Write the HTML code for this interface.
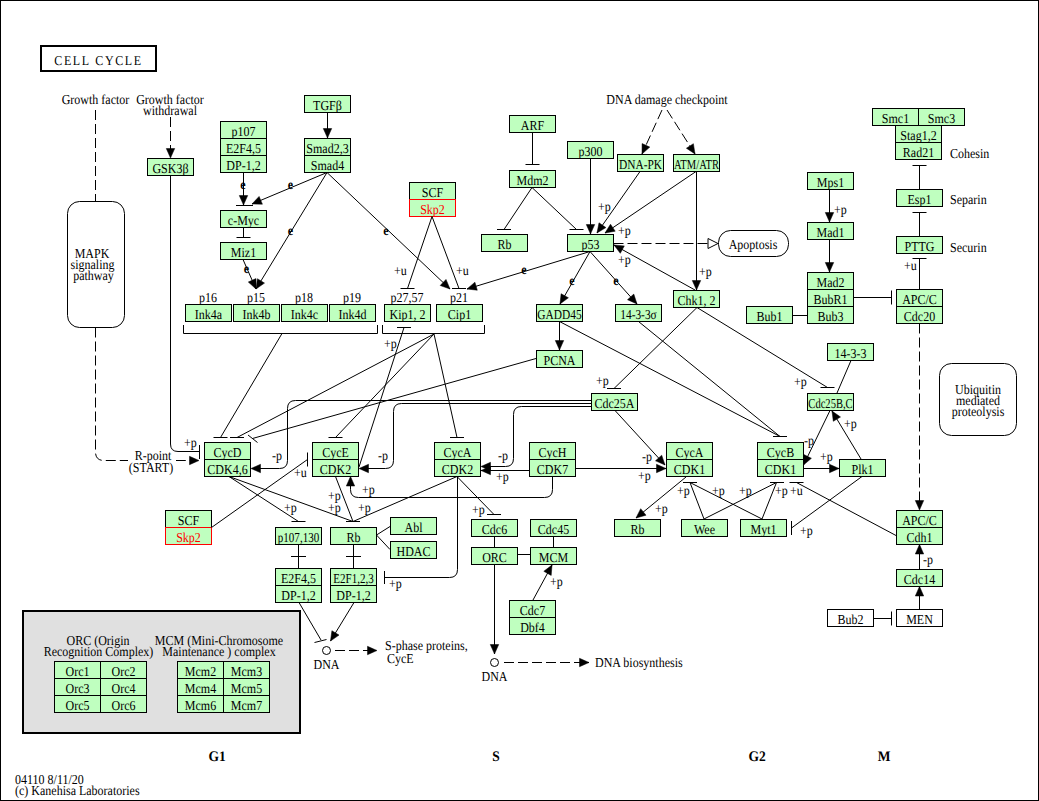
<!DOCTYPE html>
<html><head><meta charset="utf-8"><style>
html,body{margin:0;padding:0;background:#fff;}
body{width:1039px;height:801px;overflow:hidden;}
svg{display:block;font-family:"Liberation Serif",serif;text-rendering:geometricPrecision;}
line,path{stroke:#000;stroke-width:1;}
</style></head><body>
<svg width="1039" height="801" viewBox="0 0 1039 801">
<rect x="0.5" y="0.5" width="1038" height="800" fill="#fff" stroke="#000"/>
<rect x="41" y="46" width="115" height="25" fill="none" stroke="#000" stroke-width="2"/>
<text x="98.5" y="65" text-anchor="middle" font-size="12" letter-spacing="1.6" transform="translate(0,-8.5) scale(1,1.13)" >CELL&#160;CYCLE</text>
<text transform="translate(95.5,104) scale(1.0,1.14)" text-anchor="middle" font-size="12">Growth factor</text>
<text transform="translate(170,104) scale(1.0,1.14)" text-anchor="middle" font-size="12">Growth factor</text>
<text transform="translate(170,115) scale(1.0,1.14)" text-anchor="middle" font-size="12">withdrawal</text>
<rect x="67.5" y="201.5" width="57" height="126" rx="12" ry="12" fill="none" stroke="#000"/>
<text transform="translate(92,258) scale(1.0,1.14)" text-anchor="middle" font-size="12">MAPK</text>
<text transform="translate(92.5,269) scale(1.0,1.14)" text-anchor="middle" font-size="12">signaling</text>
<text transform="translate(93.5,280) scale(1.0,1.14)" text-anchor="middle" font-size="12">pathway</text>
<line x1="95.5" y1="110" x2="95.5" y2="201" stroke-dasharray="10,4"/>
<path d="M95.5,327.5 V452 Q95.5,460.5 104,460.5 H190" fill="none" stroke-dasharray="10,4"/>
<polygon points="199.0,460.5 189.5,464.7 189.5,456.3" fill="#000" stroke="#000" stroke-width="0.5"/>
<rect x="128" y="449" width="48" height="25" fill="#fff"/>
<text transform="translate(153,460) scale(1.0,1.14)" text-anchor="middle" font-size="12">R-point</text>
<text transform="translate(151,472) scale(1.0,1.14)" text-anchor="middle" font-size="12">(START)</text>
<line x1="170.5" y1="117" x2="170.5" y2="150" stroke-dasharray="10,4"/>
<polygon points="170.5,158.0 166.3,148.5 174.7,148.5" fill="#000" stroke="#000" stroke-width="0.5"/>
<rect x="147.5" y="158.5" width="46" height="17" fill="#bfffbf" stroke="#000"/>
<text transform="translate(170.5,173) scale(1.0,1.14)" text-anchor="middle" font-size="12">GSK3β</text>
<path d="M170.5,175.5 V444 Q170.5,451.5 178,451.5 H199.5" fill="none"/>
<line x1="199.5" y1="445" x2="199.5" y2="459"/>
<text transform="translate(184,446.5) scale(1.0,1.14)" text-anchor="start" font-size="12">+p</text>
<rect x="220.5" y="121.5" width="46" height="17" fill="#bfffbf" stroke="#000"/>
<text transform="translate(243.5,136) scale(1.0,1.14)" text-anchor="middle" font-size="12">p107</text>
<rect x="220.5" y="138.5" width="46" height="17" fill="#bfffbf" stroke="#000"/>
<text transform="translate(243.5,153) scale(1.0,1.14)" text-anchor="middle" font-size="12">E2F4,5</text>
<rect x="220.5" y="155.5" width="46" height="17" fill="#bfffbf" stroke="#000"/>
<text transform="translate(243.5,170) scale(1.0,1.14)" text-anchor="middle" font-size="12">DP-1,2</text>
<rect x="220.5" y="210.5" width="46" height="17" fill="#bfffbf" stroke="#000"/>
<text transform="translate(243.5,225) scale(1.0,1.14)" text-anchor="middle" font-size="12">c-Myc</text>
<rect x="220.5" y="242.5" width="46" height="17" fill="#bfffbf" stroke="#000"/>
<text transform="translate(243.5,257) scale(1.0,1.14)" text-anchor="middle" font-size="12">Miz1</text>
<rect x="304.5" y="95.5" width="46" height="17" fill="#bfffbf" stroke="#000"/>
<text transform="translate(327.5,110) scale(1.0,1.14)" text-anchor="middle" font-size="12">TGFβ</text>
<rect x="304.5" y="138.5" width="46" height="17" fill="#bfffbf" stroke="#000"/>
<text transform="translate(327.5,153) scale(1.0,1.14)" text-anchor="middle" font-size="12">Smad2,3</text>
<rect x="304.5" y="155.5" width="46" height="17" fill="#bfffbf" stroke="#000"/>
<text transform="translate(327.5,170) scale(1.0,1.14)" text-anchor="middle" font-size="12">Smad4</text>
<line x1="327.5" y1="112.5" x2="327.5" y2="138"/>
<polygon points="327.5,138.0 323.3,128.5 331.7,128.5" fill="#000" stroke="#000" stroke-width="0.5"/>
<line x1="243.5" y1="172.5" x2="243.5" y2="205"/>
<polygon points="243.5,205.0 239.3,195.5 247.7,195.5" fill="#000" stroke="#000" stroke-width="0.5"/>
<line x1="236" y1="205.5" x2="253" y2="205.5"/>
<text transform="translate(243,189) scale(1.0,1.14)" text-anchor="middle" font-size="12" font-weight="bold">e</text>
<line x1="327" y1="172.5" x2="252" y2="204"/>
<polygon points="252.0,204.0 259.1,196.4 262.4,204.2" fill="#000" stroke="#000" stroke-width="0.5"/>
<text transform="translate(290.5,189) scale(1.0,1.14)" text-anchor="middle" font-size="12" font-weight="bold">e</text>
<line x1="243.5" y1="227.5" x2="243.5" y2="237.5"/>
<line x1="236.5" y1="237.5" x2="250.5" y2="237.5"/>
<line x1="243" y1="259.5" x2="256" y2="289"/>
<polygon points="256.0,289.0 248.3,282.0 256.0,278.6" fill="#000" stroke="#000" stroke-width="0.5"/>
<text transform="translate(246.5,273) scale(1.0,1.14)" text-anchor="middle" font-size="12" font-weight="bold">e</text>
<line x1="327" y1="172.5" x2="256" y2="289"/>
<polygon points="256.0,289.0 257.4,278.7 264.5,283.1" fill="#000" stroke="#000" stroke-width="0.5"/>
<text transform="translate(290.5,235) scale(1.0,1.14)" text-anchor="middle" font-size="12" font-weight="bold">e</text>
<line x1="327" y1="172.5" x2="450" y2="289"/>
<polygon points="450.0,289.0 440.2,285.5 446.0,279.4" fill="#000" stroke="#000" stroke-width="0.5"/>
<text transform="translate(386,235) scale(1.0,1.14)" text-anchor="middle" font-size="12" font-weight="bold">e</text>
<rect x="409.5" y="182.5" width="46" height="17" fill="#bfffbf" stroke="#000"/>
<text transform="translate(432.5,197) scale(1.0,1.14)" text-anchor="middle" font-size="12">SCF</text>
<rect x="409.5" y="199.5" width="46" height="17" fill="#bfffbf" stroke="#f00"/>
<text transform="translate(432.5,214) scale(1.0,1.14)" text-anchor="middle" font-size="12" fill="#f00">Skp2</text>
<line x1="432" y1="216.5" x2="407.5" y2="288.5"/>
<line x1="400.5" y1="288.5" x2="414.5" y2="288.5"/>
<line x1="432" y1="216.5" x2="459" y2="288.5"/>
<line x1="452.0" y1="288.5" x2="466.0" y2="288.5"/>
<text transform="translate(394,275) scale(1.0,1.14)" text-anchor="start" font-size="12">+u</text>
<text transform="translate(456,275) scale(1.0,1.14)" text-anchor="start" font-size="12">+u</text>
<text transform="translate(208,302) scale(1.0,1.14)" text-anchor="middle" font-size="12">p16</text>
<text transform="translate(256,302) scale(1.0,1.14)" text-anchor="middle" font-size="12">p15</text>
<text transform="translate(304,302) scale(1.0,1.14)" text-anchor="middle" font-size="12">p18</text>
<text transform="translate(352,302) scale(1.0,1.14)" text-anchor="middle" font-size="12">p19</text>
<text transform="translate(407,302) scale(1.0,1.14)" text-anchor="middle" font-size="12">p27,57</text>
<text transform="translate(459,302) scale(1.0,1.14)" text-anchor="middle" font-size="12">p21</text>
<rect x="185.5" y="304.5" width="46" height="17" fill="#bfffbf" stroke="#000"/>
<text transform="translate(208.5,319) scale(1.0,1.14)" text-anchor="middle" font-size="12">Ink4a</text>
<rect x="233.5" y="304.5" width="46" height="17" fill="#bfffbf" stroke="#000"/>
<text transform="translate(256.5,319) scale(1.0,1.14)" text-anchor="middle" font-size="12">Ink4b</text>
<rect x="281.5" y="304.5" width="46" height="17" fill="#bfffbf" stroke="#000"/>
<text transform="translate(304.5,319) scale(1.0,1.14)" text-anchor="middle" font-size="12">Ink4c</text>
<rect x="329.5" y="304.5" width="46" height="17" fill="#bfffbf" stroke="#000"/>
<text transform="translate(352.5,319) scale(1.0,1.14)" text-anchor="middle" font-size="12">Ink4d</text>
<rect x="384.5" y="304.5" width="46" height="17" fill="#bfffbf" stroke="#000"/>
<text transform="translate(407.5,319) scale(1.0,1.14)" text-anchor="middle" font-size="12">Kip1, 2</text>
<rect x="436.5" y="304.5" width="46" height="17" fill="#bfffbf" stroke="#000"/>
<text transform="translate(459.5,319) scale(1.0,1.14)" text-anchor="middle" font-size="12">Cip1</text>
<path d="M183.5,325 V333.5 H377.5 V325" fill="none"/>
<path d="M382.5,325 V333.5 H484.5 V325" fill="none"/>
<rect x="509.5" y="115.5" width="46" height="17" fill="#bfffbf" stroke="#000"/>
<text transform="translate(532.5,130) scale(1.0,1.14)" text-anchor="middle" font-size="12">ARF</text>
<rect x="509.5" y="170.5" width="46" height="17" fill="#bfffbf" stroke="#000"/>
<text transform="translate(532.5,185) scale(1.0,1.14)" text-anchor="middle" font-size="12">Mdm2</text>
<line x1="532.5" y1="132.5" x2="532.5" y2="164.5"/>
<line x1="525.5" y1="164.5" x2="539.5" y2="164.5"/>
<line x1="532" y1="187.5" x2="504" y2="229.5"/>
<line x1="497.0" y1="229.5" x2="511.0" y2="229.5"/>
<line x1="532" y1="187.5" x2="576.5" y2="229.5"/>
<line x1="569.5" y1="229.5" x2="583.5" y2="229.5"/>
<rect x="481.5" y="234.5" width="46" height="17" fill="#bfffbf" stroke="#000"/>
<text transform="translate(504.5,249) scale(1.0,1.14)" text-anchor="middle" font-size="12">Rb</text>
<rect x="567.5" y="234.5" width="46" height="17" fill="#bfffbf" stroke="#000"/>
<text transform="translate(590.5,249) scale(1.0,1.14)" text-anchor="middle" font-size="12">p53</text>
<rect x="567.5" y="141.5" width="46" height="17" fill="#bfffbf" stroke="#000"/>
<text transform="translate(590.5,156) scale(1.0,1.14)" text-anchor="middle" font-size="12">p300</text>
<line x1="590.5" y1="158.5" x2="590.5" y2="234"/>
<polygon points="590.5,234.0 586.3,224.5 594.7,224.5" fill="#000" stroke="#000" stroke-width="0.5"/>
<rect x="617.5" y="154.5" width="46" height="17" fill="#bfffbf" stroke="#000"/>
<text transform="translate(640.5,169) scale(0.95,1.14)" text-anchor="middle" font-size="12">DNA-PK</text>
<rect x="673.5" y="154.5" width="46" height="17" fill="#bfffbf" stroke="#000"/>
<text transform="translate(696.5,169) scale(0.88,1.14)" text-anchor="middle" font-size="12">ATM/ATR</text>
<text transform="translate(667,104) scale(1.0,1.14)" text-anchor="middle" font-size="12">DNA damage checkpoint</text>
<line x1="662" y1="110" x2="642" y2="154" stroke-dasharray="10,4"/>
<polygon points="642.0,154.0 642.1,143.6 649.8,147.1" fill="#000" stroke="#000" stroke-width="0.5"/>
<line x1="667" y1="110" x2="695" y2="154" stroke-dasharray="10,4"/>
<polygon points="695.0,154.0 686.4,148.2 693.4,143.7" fill="#000" stroke="#000" stroke-width="0.5"/>
<line x1="640" y1="171.5" x2="597" y2="233"/>
<polygon points="597.0,233.0 599.0,222.8 605.9,227.6" fill="#000" stroke="#000" stroke-width="0.5"/>
<line x1="696" y1="171.5" x2="605" y2="233"/>
<polygon points="605.0,233.0 610.5,224.2 615.2,231.2" fill="#000" stroke="#000" stroke-width="0.5"/>
<text transform="translate(598,210.5) scale(1.0,1.14)" text-anchor="start" font-size="12">+p</text>
<text transform="translate(618,234.5) scale(1.0,1.14)" text-anchor="start" font-size="12">+p</text>
<line x1="696.5" y1="171.5" x2="696.5" y2="290"/>
<polygon points="696.5,290.0 692.3,280.5 700.7,280.5" fill="#000" stroke="#000" stroke-width="0.5"/>
<text transform="translate(699,275.5) scale(1.0,1.14)" text-anchor="start" font-size="12">+p</text>
<line x1="613.5" y1="243.5" x2="708" y2="243.5" stroke-dasharray="10,4"/>
<polygon points="718.0,243.5 708.0,248.5 708.0,238.5" fill="#fff" stroke="#000"/>
<rect x="718.5" y="230.5" width="70" height="26" rx="12" ry="12" fill="none" stroke="#000"/>
<text transform="translate(753,249) scale(1.0,1.14)" text-anchor="middle" font-size="12">Apoptosis</text>
<line x1="695" y1="290" x2="614" y2="245"/>
<polygon points="614.0,245.0 624.3,245.9 620.3,253.3" fill="#000" stroke="#000" stroke-width="0.5"/>
<text transform="translate(618,263.5) scale(1.0,1.14)" text-anchor="start" font-size="12">+p</text>
<rect x="673.5" y="290.5" width="46" height="17" fill="#bfffbf" stroke="#000"/>
<text transform="translate(696.5,305) scale(1.0,1.14)" text-anchor="middle" font-size="12">Chk1, 2</text>
<line x1="590" y1="251.5" x2="467" y2="289"/>
<polygon points="467.0,289.0 474.9,282.2 477.3,290.2" fill="#000" stroke="#000" stroke-width="0.5"/>
<text transform="translate(524,274) scale(1.0,1.14)" text-anchor="middle" font-size="12" font-weight="bold">e</text>
<line x1="590" y1="251.5" x2="560" y2="304"/>
<polygon points="560.0,304.0 561.1,293.7 568.4,297.8" fill="#000" stroke="#000" stroke-width="0.5"/>
<text transform="translate(572,285) scale(1.0,1.14)" text-anchor="middle" font-size="12" font-weight="bold">e</text>
<line x1="590" y1="251.5" x2="637" y2="304"/>
<polygon points="637.0,304.0 627.5,299.7 633.8,294.1" fill="#000" stroke="#000" stroke-width="0.5"/>
<text transform="translate(616,285) scale(1.0,1.14)" text-anchor="middle" font-size="12" font-weight="bold">e</text>
<rect x="536.5" y="304.5" width="46" height="17" fill="#bfffbf" stroke="#000"/>
<text transform="translate(559.5,319) scale(0.95,1.14)" text-anchor="middle" font-size="12">GADD45</text>
<rect x="615.5" y="304.5" width="46" height="17" fill="#bfffbf" stroke="#000"/>
<text transform="translate(638.5,319) scale(0.95,1.14)" text-anchor="middle" font-size="12">14-3-3σ</text>
<line x1="559.5" y1="321.5" x2="559.5" y2="350"/>
<polygon points="559.5,350.0 555.3,340.5 563.7,340.5" fill="#000" stroke="#000" stroke-width="0.5"/>
<rect x="536.5" y="350.5" width="46" height="17" fill="#bfffbf" stroke="#000"/>
<text transform="translate(559.5,365) scale(1.0,1.14)" text-anchor="middle" font-size="12">PCNA</text>
<rect x="807.5" y="172.5" width="46" height="17" fill="#bfffbf" stroke="#000"/>
<text transform="translate(830.5,187) scale(1.0,1.14)" text-anchor="middle" font-size="12">Mps1</text>
<rect x="807.5" y="222.5" width="46" height="17" fill="#bfffbf" stroke="#000"/>
<text transform="translate(830.5,237) scale(1.0,1.14)" text-anchor="middle" font-size="12">Mad1</text>
<line x1="829.5" y1="189.5" x2="829.5" y2="222"/>
<polygon points="829.5,222.0 825.3,212.5 833.7,212.5" fill="#000" stroke="#000" stroke-width="0.5"/>
<text transform="translate(834,213.5) scale(1.0,1.14)" text-anchor="start" font-size="12">+p</text>
<line x1="829.5" y1="239.5" x2="829.5" y2="272"/>
<polygon points="829.5,272.0 825.3,262.5 833.7,262.5" fill="#000" stroke="#000" stroke-width="0.5"/>
<rect x="872.5" y="108.5" width="46" height="17" fill="#bfffbf" stroke="#000"/>
<text transform="translate(895.5,123) scale(1.0,1.14)" text-anchor="middle" font-size="12">Smc1</text>
<rect x="918.5" y="108.5" width="46" height="17" fill="#bfffbf" stroke="#000"/>
<text transform="translate(941.5,123) scale(1.0,1.14)" text-anchor="middle" font-size="12">Smc3</text>
<rect x="895.5" y="125.5" width="46" height="17" fill="#bfffbf" stroke="#000"/>
<text transform="translate(918.5,140) scale(1.0,1.14)" text-anchor="middle" font-size="12">Stag1,2</text>
<rect x="895.5" y="142.5" width="46" height="17" fill="#bfffbf" stroke="#000"/>
<text transform="translate(918.5,157) scale(1.0,1.14)" text-anchor="middle" font-size="12">Rad21</text>
<text transform="translate(950,158) scale(1.0,1.14)" text-anchor="start" font-size="12">Cohesin</text>
<rect x="896.5" y="189.5" width="46" height="17" fill="#bfffbf" stroke="#000"/>
<text transform="translate(919.5,204) scale(1.0,1.14)" text-anchor="middle" font-size="12">Esp1</text>
<text transform="translate(950,203.5) scale(1.0,1.14)" text-anchor="start" font-size="12">Separin</text>
<rect x="896.5" y="236.5" width="46" height="17" fill="#bfffbf" stroke="#000"/>
<text transform="translate(919.5,251) scale(1.0,1.14)" text-anchor="middle" font-size="12">PTTG</text>
<text transform="translate(950,252) scale(1.0,1.14)" text-anchor="start" font-size="12">Securin</text>
<line x1="919.5" y1="189" x2="919.5" y2="165.5"/>
<line x1="912.5" y1="165.5" x2="926.5" y2="165.5"/>
<line x1="919.5" y1="236" x2="919.5" y2="212.5"/>
<line x1="912.5" y1="212.5" x2="926.5" y2="212.5"/>
<line x1="919.5" y1="289" x2="919.5" y2="258.5"/>
<line x1="912.5" y1="258.5" x2="926.5" y2="258.5"/>
<text transform="translate(904,270) scale(1.0,1.14)" text-anchor="start" font-size="12">+u</text>
<rect x="807.5" y="272.5" width="46" height="17" fill="#bfffbf" stroke="#000"/>
<text transform="translate(830.5,287) scale(1.0,1.14)" text-anchor="middle" font-size="12">Mad2</text>
<rect x="807.5" y="289.5" width="46" height="17" fill="#bfffbf" stroke="#000"/>
<text transform="translate(830.5,304) scale(1.0,1.14)" text-anchor="middle" font-size="12">BubR1</text>
<rect x="807.5" y="306.5" width="46" height="17" fill="#bfffbf" stroke="#000"/>
<text transform="translate(830.5,321) scale(1.0,1.14)" text-anchor="middle" font-size="12">Bub3</text>
<rect x="746.5" y="306.5" width="46" height="17" fill="#bfffbf" stroke="#000"/>
<text transform="translate(769.5,321) scale(1.0,1.14)" text-anchor="middle" font-size="12">Bub1</text>
<line x1="792.5" y1="315.5" x2="807" y2="315.5"/>
<line x1="853.5" y1="297.5" x2="891.5" y2="297.5"/>
<line x1="891.5" y1="290.5" x2="891.5" y2="304.5"/>
<rect x="896.5" y="289.5" width="46" height="17" fill="#bfffbf" stroke="#000"/>
<text transform="translate(919.5,304) scale(1.0,1.14)" text-anchor="middle" font-size="12">APC/C</text>
<rect x="896.5" y="306.5" width="46" height="17" fill="#bfffbf" stroke="#000"/>
<text transform="translate(919.5,321) scale(1.0,1.14)" text-anchor="middle" font-size="12">Cdc20</text>
<line x1="919.5" y1="323.5" x2="919.5" y2="502" stroke-dasharray="10,4"/>
<polygon points="919.5,510.0 915.3,500.5 923.7,500.5" fill="#000" stroke="#000" stroke-width="0.5"/>
<rect x="939.5" y="363.5" width="77" height="72" rx="12" ry="12" fill="none" stroke="#000"/>
<text transform="translate(978,393.5) scale(1.0,1.14)" text-anchor="middle" font-size="12">Ubiquitin</text>
<text transform="translate(978,404.5) scale(1.0,1.14)" text-anchor="middle" font-size="12">mediated</text>
<text transform="translate(978,415.5) scale(1.0,1.14)" text-anchor="middle" font-size="12">proteolysis</text>
<rect x="827.5" y="343.5" width="46" height="17" fill="#bfffbf" stroke="#000"/>
<text transform="translate(850.5,358) scale(1.0,1.14)" text-anchor="middle" font-size="12">14-3-3</text>
<rect x="807.5" y="393.5" width="46" height="17" fill="#bfffbf" stroke="#000"/>
<text transform="translate(830.5,408) scale(0.88,1.14)" text-anchor="middle" font-size="12">Cdc25B,C</text>
<line x1="851" y1="360.5" x2="837" y2="393"/>
<line x1="697" y1="307.5" x2="827.5" y2="387.5"/>
<line x1="820.5" y1="387.5" x2="834.5" y2="387.5"/>
<text transform="translate(794,385.5) scale(1.0,1.14)" text-anchor="start" font-size="12">+p</text>
<line x1="697" y1="307.5" x2="614" y2="388.5"/>
<line x1="607.0" y1="388.5" x2="621.0" y2="388.5"/>
<text transform="translate(596,384.5) scale(1.0,1.14)" text-anchor="start" font-size="12">+p</text>
<rect x="591.5" y="393.5" width="46" height="17" fill="#bfffbf" stroke="#000"/>
<text transform="translate(614.5,408) scale(1.0,1.14)" text-anchor="middle" font-size="12">Cdc25A</text>
<line x1="282" y1="333.5" x2="220.5" y2="437.5"/>
<line x1="213.5" y1="437.5" x2="227.5" y2="437.5"/>
<line x1="434" y1="334" x2="237" y2="437.5"/>
<line x1="230.0" y1="437.5" x2="244.0" y2="437.5"/>
<line x1="434" y1="334" x2="335.5" y2="437.5"/>
<line x1="328.5" y1="437.5" x2="342.5" y2="437.5"/>
<line x1="434" y1="334" x2="457" y2="437.5"/>
<line x1="450.0" y1="437.5" x2="464.0" y2="437.5"/>
<line x1="536" y1="358.5" x2="252.5" y2="438.5"/>
<line x1="248" y1="435" x2="257.5" y2="442.5"/>
<line x1="359" y1="467" x2="404" y2="327.5"/>
<line x1="397.0" y1="327.5" x2="411.0" y2="327.5"/>
<text transform="translate(384,347.5) scale(1.0,1.14)" text-anchor="start" font-size="12">+p</text>
<line x1="638.5" y1="321.5" x2="780" y2="436.5"/>
<line x1="773.0" y1="436.5" x2="787.0" y2="436.5"/>
<line x1="559.5" y1="321.5" x2="780" y2="436.5"/>
<line x1="773.0" y1="436.5" x2="787.0" y2="436.5"/>
<path d="M591,400.5 H295.5 Q287.5,400.5 287.5,408.5 V460.5 Q287.5,468.5 279.5,468.5 H258" fill="none"/>
<polygon points="251.0,468.5 260.5,464.3 260.5,472.7" fill="#000" stroke="#000" stroke-width="0.5"/>
<text transform="translate(272,459.5) scale(1.0,1.14)" text-anchor="start" font-size="12">-p</text>
<path d="M591,403.5 H401.5 Q393.5,403.5 393.5,411.5 V460.5 Q393.5,468.5 385.5,468.5 H366" fill="none"/>
<polygon points="359.0,468.5 368.5,464.3 368.5,472.7" fill="#000" stroke="#000" stroke-width="0.5"/>
<text transform="translate(378,459.5) scale(1.0,1.14)" text-anchor="start" font-size="12">-p</text>
<path d="M591,406.5 H521.5 Q513.5,406.5 513.5,414.5 V458.5 Q513.5,466.5 505.5,466.5 H488" fill="none"/>
<polygon points="481.0,466.5 490.5,462.3 490.5,470.7" fill="#000" stroke="#000" stroke-width="0.5"/>
<text transform="translate(498,459.5) scale(1.0,1.14)" text-anchor="start" font-size="12">-p</text>
<rect x="204.5" y="442.5" width="46" height="17" fill="#bfffbf" stroke="#000"/>
<text transform="translate(227.5,457) scale(1.0,1.14)" text-anchor="middle" font-size="12">CycD</text>
<rect x="204.5" y="459.5" width="46" height="17" fill="#bfffbf" stroke="#000"/>
<text transform="translate(227.5,474) scale(1.0,1.14)" text-anchor="middle" font-size="12">CDK4,6</text>
<rect x="312.5" y="442.5" width="46" height="17" fill="#bfffbf" stroke="#000"/>
<text transform="translate(335.5,457) scale(1.0,1.14)" text-anchor="middle" font-size="12">CycE</text>
<rect x="312.5" y="459.5" width="46" height="17" fill="#bfffbf" stroke="#000"/>
<text transform="translate(335.5,474) scale(1.0,1.14)" text-anchor="middle" font-size="12">CDK2</text>
<rect x="434.5" y="442.5" width="46" height="17" fill="#bfffbf" stroke="#000"/>
<text transform="translate(457.5,457) scale(1.0,1.14)" text-anchor="middle" font-size="12">CycA</text>
<rect x="434.5" y="459.5" width="46" height="17" fill="#bfffbf" stroke="#000"/>
<text transform="translate(457.5,474) scale(1.0,1.14)" text-anchor="middle" font-size="12">CDK2</text>
<rect x="529.5" y="442.5" width="46" height="17" fill="#bfffbf" stroke="#000"/>
<text transform="translate(552.5,457) scale(1.0,1.14)" text-anchor="middle" font-size="12">CycH</text>
<rect x="529.5" y="459.5" width="46" height="17" fill="#bfffbf" stroke="#000"/>
<text transform="translate(552.5,474) scale(1.0,1.14)" text-anchor="middle" font-size="12">CDK7</text>
<rect x="666.5" y="442.5" width="46" height="17" fill="#bfffbf" stroke="#000"/>
<text transform="translate(689.5,457) scale(1.0,1.14)" text-anchor="middle" font-size="12">CycA</text>
<rect x="666.5" y="459.5" width="46" height="17" fill="#bfffbf" stroke="#000"/>
<text transform="translate(689.5,474) scale(1.0,1.14)" text-anchor="middle" font-size="12">CDK1</text>
<rect x="757.5" y="442.5" width="46" height="17" fill="#bfffbf" stroke="#000"/>
<text transform="translate(780.5,457) scale(1.0,1.14)" text-anchor="middle" font-size="12">CycB</text>
<rect x="757.5" y="459.5" width="46" height="17" fill="#bfffbf" stroke="#000"/>
<text transform="translate(780.5,474) scale(1.0,1.14)" text-anchor="middle" font-size="12">CDK1</text>
<rect x="839.5" y="459.5" width="46" height="17" fill="#bfffbf" stroke="#000"/>
<text transform="translate(862.5,474) scale(1.0,1.14)" text-anchor="middle" font-size="12">Plk1</text>
<line x1="529" y1="470.5" x2="481" y2="470.5"/>
<polygon points="481.0,470.5 490.5,466.3 490.5,474.7" fill="#000" stroke="#000" stroke-width="0.5"/>
<text transform="translate(496,480.5) scale(1.0,1.14)" text-anchor="start" font-size="12">+p</text>
<line x1="575.5" y1="468.5" x2="666" y2="468.5"/>
<polygon points="666.0,468.5 656.5,472.7 656.5,464.3" fill="#000" stroke="#000" stroke-width="0.5"/>
<text transform="translate(638,479.5) scale(1.0,1.14)" text-anchor="start" font-size="12">+p</text>
<line x1="615" y1="410.5" x2="665" y2="465"/>
<polygon points="665.0,465.0 655.5,460.8 661.7,455.2" fill="#000" stroke="#000" stroke-width="0.5"/>
<text transform="translate(642,460.5) scale(1.0,1.14)" text-anchor="start" font-size="12">-p</text>
<path d="M552.5,476.5 V489.5 Q552.5,497.5 544.5,497.5 H358.5 Q350.5,497.5 350.5,489.5 V485" fill="none"/>
<polygon points="350.5,476.5 354.7,486.0 346.3,486.0" fill="#000" stroke="#000" stroke-width="0.5"/>
<text transform="translate(362,493.5) scale(1.0,1.14)" text-anchor="start" font-size="12">+p</text>
<path d="M457.5,476.5 V569.5 Q457.5,577.5 449.5,577.5 H384.5" fill="none"/>
<line x1="384.5" y1="571" x2="384.5" y2="584"/>
<text transform="translate(389,587.5) scale(1.0,1.14)" text-anchor="start" font-size="12">+p</text>
<line x1="457" y1="476.5" x2="353" y2="521.5"/>
<line x1="457" y1="476.5" x2="494" y2="514.5"/>
<line x1="487.0" y1="514.5" x2="501.0" y2="514.5"/>
<text transform="translate(472,513.5) scale(1.0,1.14)" text-anchor="start" font-size="12">+p</text>
<line x1="229" y1="476.5" x2="298.5" y2="521.5"/>
<line x1="291.5" y1="521.5" x2="305.5" y2="521.5"/>
<line x1="229" y1="476.5" x2="353" y2="521.5"/>
<line x1="335.5" y1="476.5" x2="353" y2="521.5"/>
<line x1="346" y1="521.5" x2="360" y2="521.5"/>
<text transform="translate(284,511.5) scale(1.0,1.14)" text-anchor="start" font-size="12">+p</text>
<text transform="translate(328,499.5) scale(1.0,1.14)" text-anchor="start" font-size="12">+p</text>
<text transform="translate(328,511.5) scale(1.0,1.14)" text-anchor="start" font-size="12">+p</text>
<text transform="translate(358,511.5) scale(1.0,1.14)" text-anchor="start" font-size="12">+p</text>
<rect x="165.5" y="510.5" width="46" height="17" fill="#bfffbf" stroke="#000"/>
<text transform="translate(188.5,525) scale(1.0,1.14)" text-anchor="middle" font-size="12">SCF</text>
<rect x="165.5" y="527.5" width="46" height="17" fill="#bfffbf" stroke="#f00"/>
<text transform="translate(188.5,542) scale(1.0,1.14)" text-anchor="middle" font-size="12" fill="#f00">Skp2</text>
<line x1="211.5" y1="527.5" x2="307.5" y2="459.5"/>
<line x1="307.5" y1="452.5" x2="307.5" y2="466.5"/>
<text transform="translate(294,477) scale(1.0,1.14)" text-anchor="start" font-size="12">+u</text>
<rect x="275.5" y="527.5" width="46" height="17" fill="#bfffbf" stroke="#000"/>
<text transform="translate(298.5,542) scale(0.92,1.14)" text-anchor="middle" font-size="12">p107,130</text>
<rect x="330.5" y="527.5" width="46" height="17" fill="#bfffbf" stroke="#000"/>
<text transform="translate(353.5,542) scale(1.0,1.14)" text-anchor="middle" font-size="12">Rb</text>
<rect x="390.5" y="517.5" width="46" height="17" fill="#bfffbf" stroke="#000"/>
<text transform="translate(413.5,532) scale(1.0,1.14)" text-anchor="middle" font-size="12">Abl</text>
<rect x="390.5" y="541.5" width="46" height="17" fill="#bfffbf" stroke="#000"/>
<text transform="translate(413.5,556) scale(1.0,1.14)" text-anchor="middle" font-size="12">HDAC</text>
<line x1="376.5" y1="535" x2="390" y2="526.5"/>
<line x1="376.5" y1="535" x2="390" y2="549.5"/>
<line x1="298.5" y1="544.5" x2="298.5" y2="568"/>
<line x1="291" y1="556.5" x2="306" y2="556.5"/>
<line x1="353.5" y1="544.5" x2="353.5" y2="568"/>
<line x1="346" y1="556.5" x2="361" y2="556.5"/>
<rect x="275.5" y="568.5" width="46" height="17" fill="#bfffbf" stroke="#000"/>
<text transform="translate(298.5,583) scale(1.0,1.14)" text-anchor="middle" font-size="12">E2F4,5</text>
<rect x="275.5" y="585.5" width="46" height="17" fill="#bfffbf" stroke="#000"/>
<text transform="translate(298.5,600) scale(1.0,1.14)" text-anchor="middle" font-size="12">DP-1,2</text>
<rect x="330.5" y="568.5" width="46" height="17" fill="#bfffbf" stroke="#000"/>
<text transform="translate(353.5,583) scale(0.92,1.14)" text-anchor="middle" font-size="12">E2F1,2,3</text>
<rect x="330.5" y="585.5" width="46" height="17" fill="#bfffbf" stroke="#000"/>
<text transform="translate(353.5,600) scale(1.0,1.14)" text-anchor="middle" font-size="12">DP-1,2</text>
<line x1="299" y1="602.5" x2="321" y2="640"/>
<line x1="314.5" y1="642.5" x2="326.5" y2="639.5"/>
<line x1="354" y1="602.5" x2="330.5" y2="641"/>
<polygon points="330.5,641.0 331.9,630.7 339.0,635.1" fill="#000" stroke="#000" stroke-width="0.5"/>
<circle cx="326.5" cy="650.5" r="4" fill="#fff" stroke="#000"/>
<text transform="translate(326.5,669) scale(1.0,1.14)" text-anchor="middle" font-size="12">DNA</text>
<line x1="335" y1="650.5" x2="377" y2="650.5" stroke-dasharray="10,4"/>
<polygon points="377.0,650.5 367.5,654.7 367.5,646.3" fill="#000" stroke="#000" stroke-width="0.5"/>
<text transform="translate(385,649.5) scale(1.0,1.14)" text-anchor="start" font-size="12">S-phase proteins,</text>
<text transform="translate(387,663) scale(1.0,1.14)" text-anchor="start" font-size="12">CycE</text>
<rect x="471.5" y="519.5" width="46" height="17" fill="#bfffbf" stroke="#000"/>
<text transform="translate(494.5,534) scale(1.0,1.14)" text-anchor="middle" font-size="12">Cdc6</text>
<rect x="530.5" y="519.5" width="46" height="17" fill="#bfffbf" stroke="#000"/>
<text transform="translate(553.5,534) scale(1.0,1.14)" text-anchor="middle" font-size="12">Cdc45</text>
<rect x="471.5" y="547.5" width="46" height="17" fill="#bfffbf" stroke="#000"/>
<text transform="translate(494.5,562) scale(1.0,1.14)" text-anchor="middle" font-size="12">ORC</text>
<rect x="530.5" y="547.5" width="46" height="17" fill="#bfffbf" stroke="#000"/>
<text transform="translate(553.5,562) scale(1.0,1.14)" text-anchor="middle" font-size="12">MCM</text>
<line x1="494.5" y1="536.5" x2="494.5" y2="547"/>
<line x1="553.5" y1="536.5" x2="553.5" y2="547"/>
<line x1="517.5" y1="554.5" x2="530" y2="554.5"/>
<rect x="509.5" y="600.5" width="46" height="17" fill="#bfffbf" stroke="#000"/>
<text transform="translate(532.5,615) scale(1.0,1.14)" text-anchor="middle" font-size="12">Cdc7</text>
<rect x="509.5" y="617.5" width="46" height="17" fill="#bfffbf" stroke="#000"/>
<text transform="translate(532.5,632) scale(1.0,1.14)" text-anchor="middle" font-size="12">Dbf4</text>
<line x1="533" y1="600" x2="552" y2="565"/>
<polygon points="552.0,565.0 551.2,575.4 543.8,571.3" fill="#000" stroke="#000" stroke-width="0.5"/>
<text transform="translate(550,585.5) scale(1.0,1.14)" text-anchor="start" font-size="12">+p</text>
<line x1="494.5" y1="564.5" x2="494.5" y2="654"/>
<polygon points="494.5,654.0 490.3,644.5 498.7,644.5" fill="#000" stroke="#000" stroke-width="0.5"/>
<circle cx="494.5" cy="662.5" r="4" fill="#fff" stroke="#000"/>
<text transform="translate(494.5,681) scale(1.0,1.14)" text-anchor="middle" font-size="12">DNA</text>
<line x1="504" y1="662.5" x2="589" y2="662.5" stroke-dasharray="10,4"/>
<polygon points="589.0,662.5 579.5,666.7 579.5,658.3" fill="#000" stroke="#000" stroke-width="0.5"/>
<text transform="translate(595,667) scale(1.0,1.14)" text-anchor="start" font-size="12">DNA biosynthesis</text>
<rect x="614.5" y="519.5" width="46" height="17" fill="#bfffbf" stroke="#000"/>
<text transform="translate(637.5,534) scale(1.0,1.14)" text-anchor="middle" font-size="12">Rb</text>
<rect x="681.5" y="519.5" width="46" height="17" fill="#bfffbf" stroke="#000"/>
<text transform="translate(704.5,534) scale(1.0,1.14)" text-anchor="middle" font-size="12">Wee</text>
<rect x="740.5" y="519.5" width="46" height="17" fill="#bfffbf" stroke="#000"/>
<text transform="translate(763.5,534) scale(1.0,1.14)" text-anchor="middle" font-size="12">Myt1</text>
<line x1="686" y1="477" x2="636" y2="518"/>
<polygon points="636.0,518.0 640.7,508.7 646.0,515.2" fill="#000" stroke="#000" stroke-width="0.5"/>
<text transform="translate(655,512.5) scale(1.0,1.14)" text-anchor="start" font-size="12">+p</text>
<line x1="704" y1="519" x2="690" y2="482.5"/>
<line x1="762" y1="519" x2="690" y2="482.5"/>
<line x1="683" y1="482.5" x2="697" y2="482.5"/>
<line x1="704" y1="519" x2="776.5" y2="482.5"/>
<line x1="762" y1="519" x2="776.5" y2="482.5"/>
<line x1="770" y1="482.5" x2="784" y2="482.5"/>
<text transform="translate(677,494.5) scale(1.0,1.14)" text-anchor="start" font-size="12">+p</text>
<text transform="translate(712,494.5) scale(1.0,1.14)" text-anchor="start" font-size="12">+p</text>
<text transform="translate(739,494.5) scale(1.0,1.14)" text-anchor="start" font-size="12">+p</text>
<text transform="translate(775,494.5) scale(1.0,1.14)" text-anchor="start" font-size="12">+p</text>
<line x1="896" y1="535.5" x2="796.5" y2="482.5"/>
<line x1="789.5" y1="482.5" x2="803.5" y2="482.5"/>
<text transform="translate(790,495) scale(1.0,1.14)" text-anchor="start" font-size="12">+u</text>
<line x1="830" y1="410.5" x2="803.5" y2="465"/>
<polygon points="803.5,465.0 803.9,454.6 811.4,458.3" fill="#000" stroke="#000" stroke-width="0.5"/>
<text transform="translate(804,444.5) scale(1.0,1.14)" text-anchor="start" font-size="12">-p</text>
<line x1="861" y1="459" x2="832" y2="411"/>
<polygon points="832.0,411.0 840.5,417.0 833.3,421.3" fill="#000" stroke="#000" stroke-width="0.5"/>
<text transform="translate(844,427.5) scale(1.0,1.14)" text-anchor="start" font-size="12">+p</text>
<line x1="803.5" y1="468.5" x2="839" y2="468.5"/>
<polygon points="839.0,468.5 829.5,472.7 829.5,464.3" fill="#000" stroke="#000" stroke-width="0.5"/>
<text transform="translate(820,460.5) scale(1.0,1.14)" text-anchor="start" font-size="12">+p</text>
<line x1="862" y1="476.5" x2="791.5" y2="528"/>
<line x1="791.5" y1="521.0" x2="791.5" y2="535.0"/>
<text transform="translate(800,534.5) scale(1.0,1.14)" text-anchor="start" font-size="12">+p</text>
<rect x="896.5" y="510.5" width="46" height="17" fill="#bfffbf" stroke="#000"/>
<text transform="translate(919.5,525) scale(1.0,1.14)" text-anchor="middle" font-size="12">APC/C</text>
<rect x="896.5" y="527.5" width="46" height="17" fill="#bfffbf" stroke="#000"/>
<text transform="translate(919.5,542) scale(1.0,1.14)" text-anchor="middle" font-size="12">Cdh1</text>
<rect x="896.5" y="569.5" width="46" height="17" fill="#bfffbf" stroke="#000"/>
<text transform="translate(919.5,584) scale(1.0,1.14)" text-anchor="middle" font-size="12">Cdc14</text>
<rect x="896.5" y="609.5" width="46" height="17" fill="#fff" stroke="#000"/>
<text transform="translate(919.5,624) scale(1.0,1.14)" text-anchor="middle" font-size="12">MEN</text>
<rect x="827.5" y="609.5" width="46" height="17" fill="#fff" stroke="#000"/>
<text transform="translate(850.5,624) scale(1.0,1.14)" text-anchor="middle" font-size="12">Bub2</text>
<line x1="919.5" y1="569" x2="919.5" y2="544.5"/>
<polygon points="919.5,544.5 923.7,554.0 915.3,554.0" fill="#000" stroke="#000" stroke-width="0.5"/>
<text transform="translate(923,563.5) scale(1.0,1.14)" text-anchor="start" font-size="12">-p</text>
<line x1="919.5" y1="609" x2="919.5" y2="586.5"/>
<polygon points="919.5,586.5 923.7,596.0 915.3,596.0" fill="#000" stroke="#000" stroke-width="0.5"/>
<line x1="873.5" y1="618.5" x2="891.5" y2="618.5"/>
<line x1="891.5" y1="611.5" x2="891.5" y2="625.5"/>
<rect x="23" y="611" width="277" height="122" fill="#e0e0e0" stroke="#000" stroke-width="2"/>
<text transform="translate(98,645) scale(1.0,1.14)" text-anchor="middle" font-size="12">ORC (Origin</text>
<text transform="translate(98.5,656) scale(1.0,1.14)" text-anchor="middle" font-size="12">Recognition Complex)</text>
<text transform="translate(219,645) scale(1.0,1.14)" text-anchor="middle" font-size="12">MCM (Mini-Chromosome</text>
<text transform="translate(219,656) scale(1.0,1.14)" text-anchor="middle" font-size="12">Maintenance ) complex</text>
<rect x="54.5" y="661.5" width="46" height="17" fill="#bfffbf" stroke="#000"/>
<text transform="translate(77.5,676) scale(1.0,1.14)" text-anchor="middle" font-size="12">Orc1</text>
<rect x="100.5" y="661.5" width="46" height="17" fill="#bfffbf" stroke="#000"/>
<text transform="translate(123.5,676) scale(1.0,1.14)" text-anchor="middle" font-size="12">Orc2</text>
<rect x="54.5" y="678.5" width="46" height="17" fill="#bfffbf" stroke="#000"/>
<text transform="translate(77.5,693) scale(1.0,1.14)" text-anchor="middle" font-size="12">Orc3</text>
<rect x="100.5" y="678.5" width="46" height="17" fill="#bfffbf" stroke="#000"/>
<text transform="translate(123.5,693) scale(1.0,1.14)" text-anchor="middle" font-size="12">Orc4</text>
<rect x="54.5" y="695.5" width="46" height="17" fill="#bfffbf" stroke="#000"/>
<text transform="translate(77.5,710) scale(1.0,1.14)" text-anchor="middle" font-size="12">Orc5</text>
<rect x="100.5" y="695.5" width="46" height="17" fill="#bfffbf" stroke="#000"/>
<text transform="translate(123.5,710) scale(1.0,1.14)" text-anchor="middle" font-size="12">Orc6</text>
<rect x="177.5" y="661.5" width="46" height="17" fill="#bfffbf" stroke="#000"/>
<text transform="translate(200.5,676) scale(1.0,1.14)" text-anchor="middle" font-size="12">Mcm2</text>
<rect x="223.5" y="661.5" width="46" height="17" fill="#bfffbf" stroke="#000"/>
<text transform="translate(246.5,676) scale(1.0,1.14)" text-anchor="middle" font-size="12">Mcm3</text>
<rect x="177.5" y="678.5" width="46" height="17" fill="#bfffbf" stroke="#000"/>
<text transform="translate(200.5,693) scale(1.0,1.14)" text-anchor="middle" font-size="12">Mcm4</text>
<rect x="223.5" y="678.5" width="46" height="17" fill="#bfffbf" stroke="#000"/>
<text transform="translate(246.5,693) scale(1.0,1.14)" text-anchor="middle" font-size="12">Mcm5</text>
<rect x="177.5" y="695.5" width="46" height="17" fill="#bfffbf" stroke="#000"/>
<text transform="translate(200.5,710) scale(1.0,1.14)" text-anchor="middle" font-size="12">Mcm6</text>
<rect x="223.5" y="695.5" width="46" height="17" fill="#bfffbf" stroke="#000"/>
<text transform="translate(246.5,710) scale(1.0,1.14)" text-anchor="middle" font-size="12">Mcm7</text>
<text transform="translate(217,761) scale(1.0,1.08)" text-anchor="middle" font-size="13.5" font-weight="bold">G1</text>
<text transform="translate(496,761) scale(1.0,1.08)" text-anchor="middle" font-size="13.5" font-weight="bold">S</text>
<text transform="translate(757,761) scale(1.0,1.08)" text-anchor="middle" font-size="13.5" font-weight="bold">G2</text>
<text transform="translate(884,761) scale(1.0,1.08)" text-anchor="middle" font-size="13.5" font-weight="bold">M</text>
<text transform="translate(15,784) scale(1.0,1.14)" text-anchor="start" font-size="12">04110 8/11/20</text>
<text transform="translate(15,795) scale(1.0,1.14)" text-anchor="start" font-size="12">(c) Kanehisa Laboratories</text>
</svg>
</body></html>
